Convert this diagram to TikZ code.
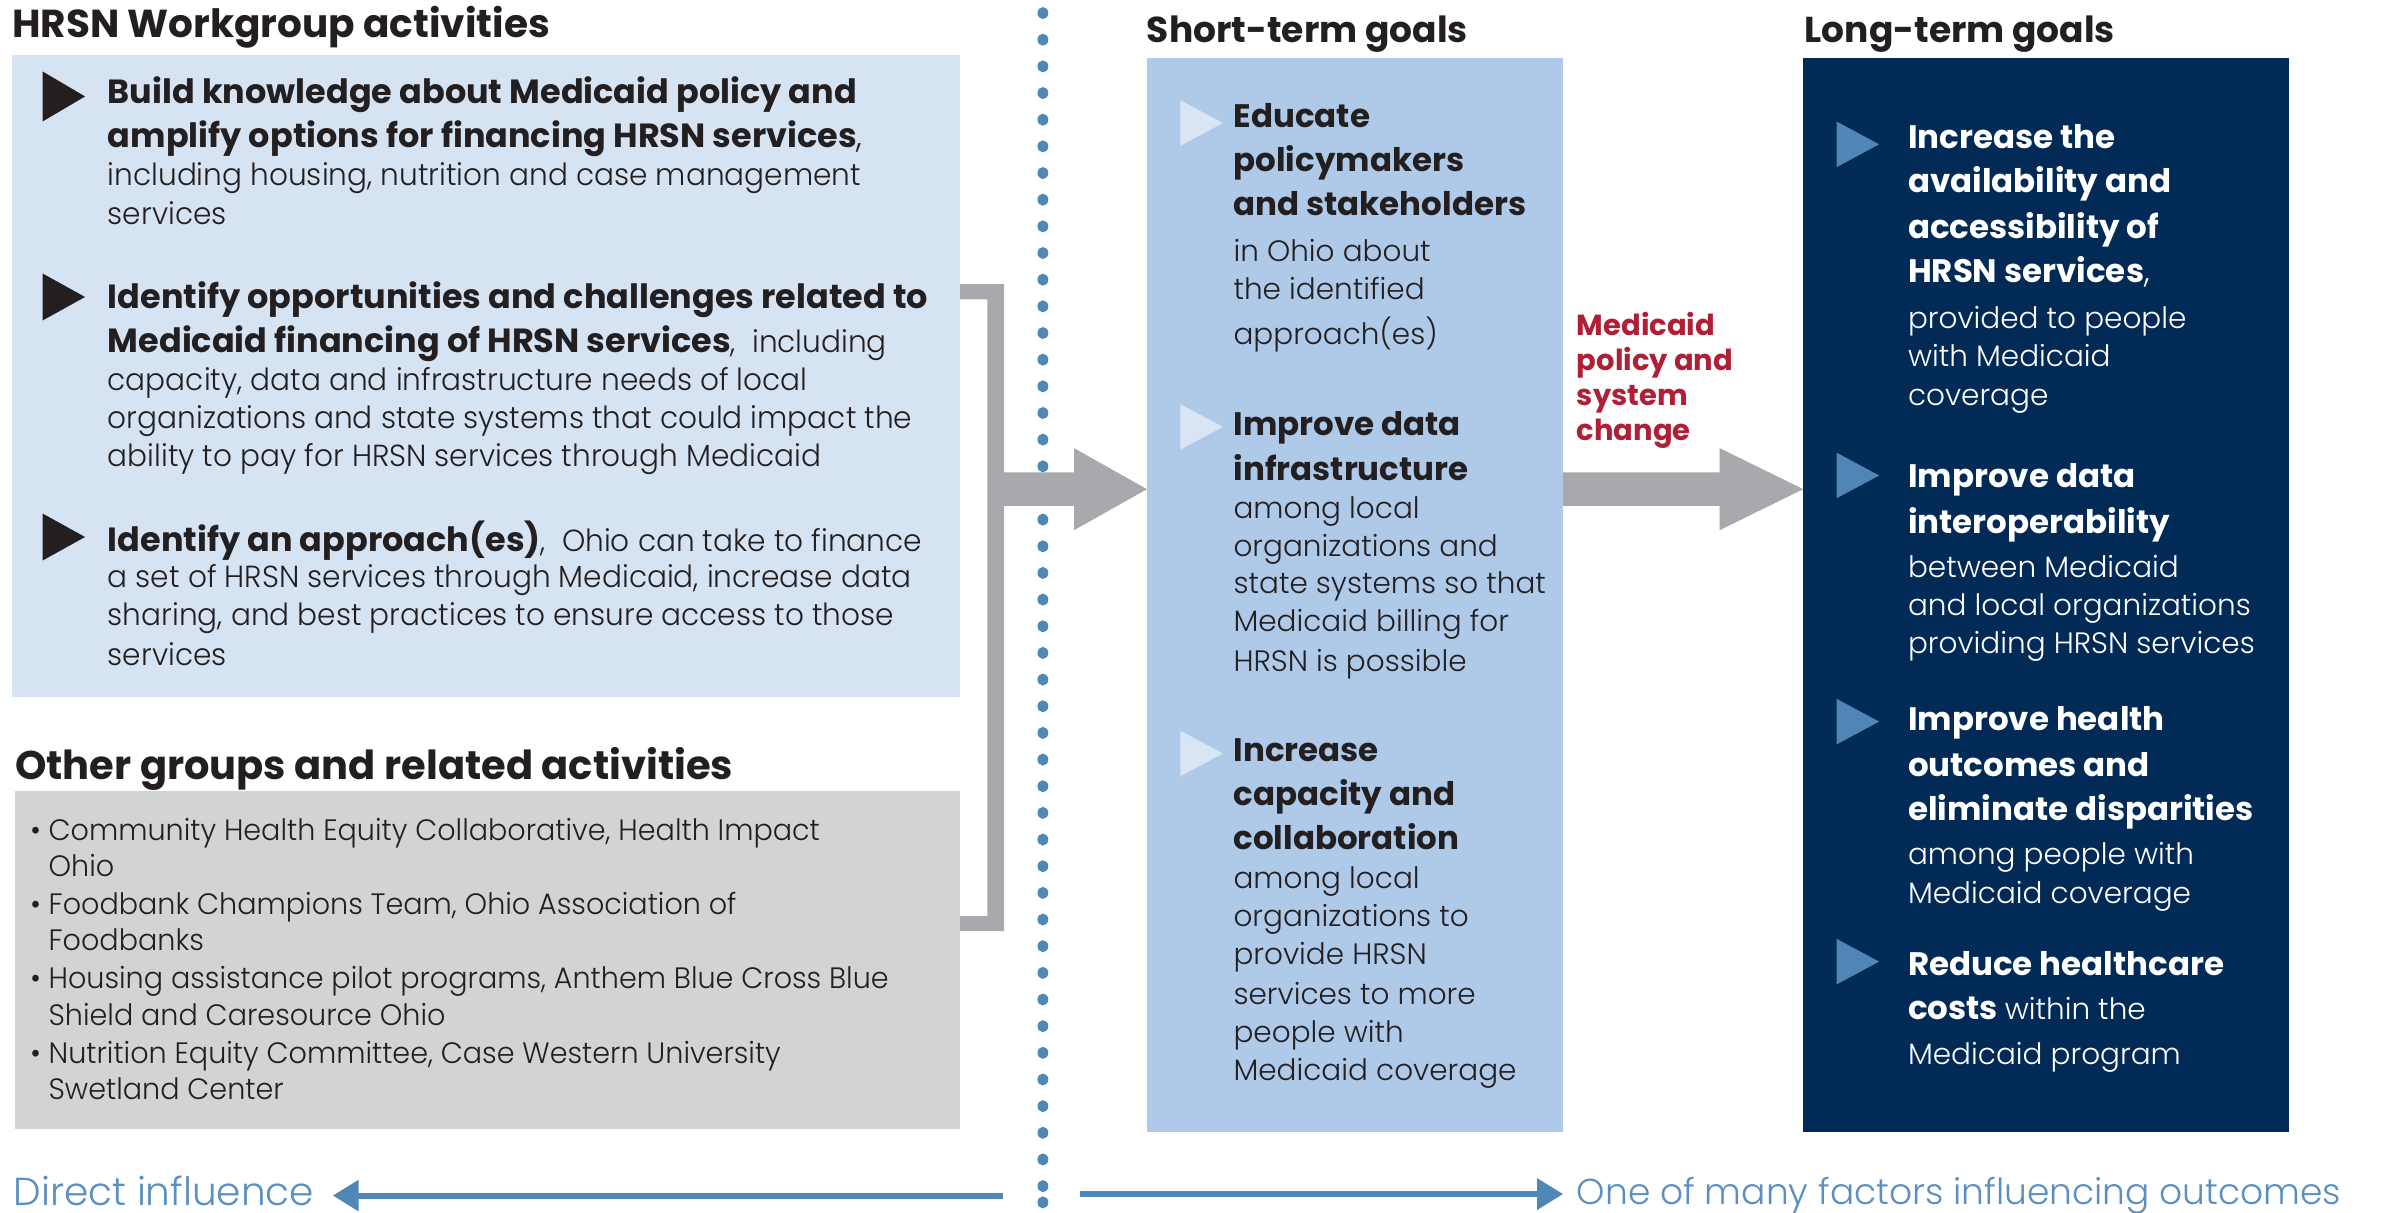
\documentclass[tikz,border=0pt]{standalone}
\usepackage{fontspec}
\setmainfont{Poppins}[UprightFont={Poppins Light}, BoldFont={Poppins Bold}]
\newfontfamily\condfont{Poppins}[UprightFont={Poppins Light}, BoldFont={Poppins Bold}, FakeStretch=0.97]
\usetikzlibrary{arrows.meta,fit}
\definecolor{ink}{HTML}{231F20}
\definecolor{lightbox}{HTML}{D6E3F3}
\definecolor{graybox}{HTML}{D1D3D4}
\definecolor{stbox}{HTML}{AFC9E9}
\definecolor{navy}{HTML}{012A57}
\definecolor{tri}{HTML}{4F86B6}
\definecolor{ltri}{HTML}{D9E5F5}
\definecolor{garrow}{HTML}{A7A9AC}
\definecolor{dotblue}{HTML}{4F87B7}
\definecolor{btext}{HTML}{5A8FC0}
\definecolor{redtxt}{HTML}{B01F35}
\begin{document}
\begin{tikzpicture}[x=1.519pt,y=-1.519pt,
  every node/.style={anchor=base west, inner sep=0pt, outer sep=0pt},
  boxst/.style={inner sep=0pt, draw=none},
  ttl/.style={font=\bfseries\fontsize{36}{40}\selectfont, text=ink},
  lttl/.style={font=\bfseries\fontsize{40}{44}\selectfont, text=ink},
  lb/.style={font=\bfseries\fontsize{33.5}{40}\selectfont, text=ink},
  lr/.style={font=\condfont\fontsize{30.5}{36}\selectfont, text=ink},
  gr/.style={font=\condfont\fontsize{29.5}{36}\selectfont, text=ink},
  rb/.style={font=\bfseries\fontsize{32.5}{38}\selectfont, text=ink},
  rr/.style={font=\fontsize{29.5}{35}\selectfont, text=ink},
  wb/.style={font=\bfseries\fontsize{32.5}{38}\selectfont, text=white},
  wr/.style={font=\fontsize{29.5}{35}\selectfont, text=white},
  redlbl/.style={font=\bfseries\fontsize{29}{32}\selectfont, text=redtxt},
  btm/.style={font=\fontsize{36}{44}\selectfont, text=btext},
  lbtm/.style={font=\fontsize{39}{44}\selectfont, text=btext},
  bline/.style={draw=dotblue, line width=6pt, -{Triangle[length=26pt,width=30pt]}}
]
\useasboundingbox (0,0) rectangle (1568,798);
\fill[white] (0,0) rectangle (1568,798);

% boxes
\node[boxst, fill=lightbox, fit={(8,36) (632,459)}] (hrsn) {};
\node[boxst, fill=graybox, fit={(10,521) (632,743)}] (other) {};
\node[boxst, fill=stbox, fit={(755,38) (1029,745)}] (st) {};
\node[boxst, fill=navy, fit={(1187,38) (1507,745)}] (lt) {};

% dotted divider
\foreach \i in {0,...,44} \fill[dotblue] (686.5,8.6+\i*17.55) ellipse [x radius=5.4pt, y radius=6pt];
\fill[dotblue] (686.5,791.5) ellipse [x radius=5.4pt, y radius=6pt];

% bracket + arrow to short-term
\fill[garrow] (632,187) -- (661,187) -- (661,311) -- (707,311) -- (707,295) -- (st.west |- 0,322) -- (707,349) -- (707,333) -- (661,333) -- (661,613) -- (632,613) -- (632,603) -- (650,603) -- (650,197) -- (632,197) -- cycle;
% arrow short-term to long-term
\fill[garrow] (st.east |- 0,311) -- (1132,311) -- (1132,295) -- (lt.west |- 0,322) -- (1132,349) -- (1132,333) -- (st.east |- 0,333) -- cycle;

% titles
\node[lttl, font=\bfseries\fontsize{39}{44}\selectfont] (t1) at (8,25) {HRSN Workgroup activities};
\node[lttl] (t2) at (10,513) {Other groups and related activities};
\node[ttl] (t3) at (755,28) {Short-term goals};
\node[ttl] (t4) at (1188,28) {Long-term goals};

% left bullets
\fill[ink] (28,47) -- (56,63.5) -- (28,80) -- cycle;
\fill[ink] (28,180) -- (56,195.5) -- (28,211) -- cycle;
\fill[ink] (28,338) -- (56,353.5) -- (28,369) -- cycle;
\node[lb] (a1) at (71,68) {Build knowledge about Medicaid policy and};
\node[lb] (a2) at (71,97) {amplify options for financing HRSN services\textmd{,}};
\node[lr] (a3) at (71,122) {including housing, nutrition and case management};
\node[lr] (a4) at (71,148) {services};
\node[lb] (b1) at (71,203) {Identify opportunities and challenges related to};
\node[lb] (b2) at (71,232) {Medicaid financing of HRSN services{\condfont\mdseries\fontsize{30.5}{36}\selectfont,\ \ including}};
\node[lr] (b3) at (71,257) {capacity, data and infrastructure needs of local};
\node[lr] (b4) at (71,282) {organizations and state systems that could impact the};
\node[lr] (b5) at (71,307) {ability to pay for HRSN services through Medicaid};
\node[lb] (c1) at (71,363) {Identify an approach(es){\condfont\mdseries\fontsize{30.5}{36}\selectfont,\ \ Ohio can take to finance}};
\node[lr] (c2) at (71,387) {a set of HRSN services through Medicaid, increase data};
\node[lr] (c3) at (71,412) {sharing, and best practices to ensure access to those};
\node[lr] (c4) at (71,438) {services};

% other groups
\node[gr] (o1) at (20,553) {\textbullet\ Community Health Equity Collaborative, Health Impact};
\node[gr] (o2) at (32,577) {Ohio};
\node[gr] (o3) at (20,602) {\textbullet\ Foodbank Champions Team, Ohio Association of};
\node[gr] (o4) at (32,626) {Foodbanks};
\node[gr] (o5) at (20,651) {\textbullet\ Housing assistance pilot programs, Anthem Blue Cross Blue};
\node[gr] (o6) at (32,675) {Shield and Caresource Ohio};
\node[gr] (o7) at (20,700) {\textbullet\ Nutrition Equity Committee, Case Western University};
\node[gr] (o8) at (32,724) {Swetland Center};

% short-term
\fill[ltri] (777,66) -- (805,81) -- (777,96) -- cycle;
\fill[ltri] (777,266) -- (805,281) -- (777,296) -- cycle;
\fill[ltri] (777,481) -- (805,496) -- (777,511) -- cycle;
\node[rb] (s1) at (812,84) {Educate};
\node[rb] (s2) at (812,113) {policymakers};
\node[rb] (s3) at (812,142) {and stakeholders};
\node[rr] (s4) at (812,172) {in Ohio about};
\node[rr] (s5) at (812,197) {the identified};
\node[rr] (s6) at (812,227) {approach(es)};
\node[rb] (s7) at (812,287) {Improve data};
\node[rb] (s8) at (812,316) {infrastructure};
\node[rr] (s9) at (812,341) {among local};
\node[rr] (s10) at (812,366) {organizations and};
\node[rr] (s11) at (812,391) {state systems so that};
\node[rr] (s12) at (812,416) {Medicaid billing for};
\node[rr] (s13) at (812,442) {HRSN is possible};
\node[rb] (s14) at (812,501) {Increase};
\node[rb] (s15) at (812,530) {capacity and};
\node[rb] (s16) at (812,559) {collaboration};
\node[rr] (s17) at (812,585) {among local};
\node[rr] (s18) at (812,610) {organizations to};
\node[rr] (s19) at (812,635) {provide HRSN};
\node[rr] (s20) at (812,661) {services to more};
\node[rr] (s21) at (812,686) {people with};
\node[rr] (s22) at (812,711) {Medicaid coverage};

% red label
\node[redlbl] (m1) at (1038,221) {Medicaid};
\node[redlbl] (m2) at (1038,244) {policy and};
\node[redlbl] (m3) at (1038,267) {system};
\node[redlbl] (m4) at (1038,290) {change};

% long-term
\fill[tri] (1209,80) -- (1237,95) -- (1209,110) -- cycle;
\fill[tri] (1209,298) -- (1237,313) -- (1209,328) -- cycle;
\fill[tri] (1209,460) -- (1237,475) -- (1209,490) -- cycle;
\fill[tri] (1209,618) -- (1237,633) -- (1209,648) -- cycle;
\node[wb] (g1) at (1256,98) {Increase the};
\node[wb] (g2) at (1256,127) {availability and};
\node[wb] (g3) at (1256,157) {accessibility of};
\node[wb] (g4) at (1256,186) {HRSN services\textmd{,}};
\node[wr] (g5) at (1256,216) {provided to people};
\node[wr] (g6) at (1256,241) {with Medicaid};
\node[wr] (g7) at (1256,267) {coverage};
\node[wb] (g8) at (1256,321) {Improve data};
\node[wb] (g9) at (1256,351) {interoperability};
\node[wr] (g10) at (1256,380) {between Medicaid};
\node[wr] (g11) at (1256,405) {and local organizations};
\node[wr] (g12) at (1256,430) {providing HRSN services};
\node[wb] (g13) at (1256,481) {Improve health};
\node[wb] (g14) at (1256,511) {outcomes and};
\node[wb] (g15) at (1256,540) {eliminate disparities};
\node[wr] (g16) at (1256,569) {among people with};
\node[wr] (g17) at (1256,595) {Medicaid coverage};
\node[wb] (g18) at (1256,642) {Reduce healthcare};
\node[wb] (g19) at (1256,671) {costs {\mdseries\fontsize{29.5}{35}\selectfont within the}};
\node[wr] (g20) at (1256,701) {Medicaid program};

% bottom
\node[lbtm] (d1) at (9,793.5) {Direct influence};
\node[btm] (d2) at (1038,793) {One of many factors influencing outcomes};
\coordinate (dl0) at (660,787);
\coordinate (dl1) at (219,787);
\coordinate (dr0) at (711,786);
\coordinate (dr1) at (1029,786);
\draw[bline] (dl0) -- (dl1);
\draw[bline] (dr0) -- (dr1);
\end{tikzpicture}
\end{document}
